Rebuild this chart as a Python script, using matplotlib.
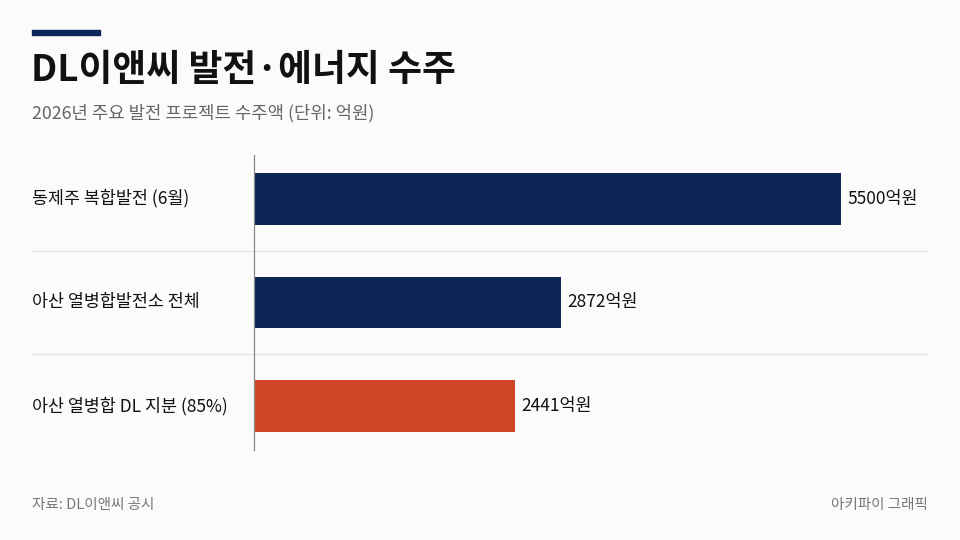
import matplotlib
matplotlib.use("Agg")
import matplotlib.pyplot as plt
from matplotlib.patches import Rectangle

plt.rcParams['font.family'] = ['Noto Sans CJK KR', 'DejaVu Sans']

categories = ["동제주 복합발전 (6월)", "아산 열병합발전소 전체", "아산 열병합 DL 지분 (85%)"]
values = [5500, 2872, 2441]
value_labels = ["5500억원", "2872억원", "2441억원"]
bar_colors = ["#0c2657", "#0c2657", "#cf4526"]

title = "DL이앤씨 발전·에너지 수주"
subtitle = "2026년 주요 발전 프로젝트 수주액 (단위: 억원)"
source = "자료: DL이앤씨 공시"
credit = "아키파이 그래픽"

BG = "#fbfbfb"
W, H = 960, 540

fig = plt.figure(figsize=(9.6, 5.4), dpi=100, facecolor=BG)

# accent bar above title
fig.patches.append(Rectangle((32 / W, 1 - 35 / H), 68 / W, 5 / H,
                             transform=fig.transFigure, color="#0c2657"))
fig.text(31 / W, 1 - 70 / H, title, fontsize=26.5, fontweight="bold",
         color="#111111", va="center", ha="left")
fig.text(32 / W, 1 - 113 / H, subtitle, fontsize=12.8, color="#666666",
         va="center", ha="left")

ax_left, ax_right = 254 / W, 928 / W
ax_top, ax_bot = 1 - 155 / H, 1 - 450 / H
ax = fig.add_axes([ax_left, ax_bot, ax_right - ax_left, ax_top - ax_bot])
ax.set_facecolor(BG)

ypos = list(range(len(categories)))
ax.barh(ypos, values, height=0.5, color=bar_colors)
ax.set_ylim(2.42, -0.42)
ax.set_xlim(0, 6315)

for y, v, lab in zip(ypos, values, value_labels):
    ax.text(v + 60, y, lab, fontsize=12.5, color="#111111", va="center", ha="left")

# category labels at the left edge of the figure
xmin_axes = (32 - 254) / (928 - 254)
for y, cat in zip(ypos, categories):
    ax.text(xmin_axes, y, cat, transform=ax.get_yaxis_transform(),
            fontsize=12.5, color="#111111", va="center", ha="left")

# separators between rows
for y in [0.5, 1.5]:
    ax.axhline(y, xmin=xmin_axes, xmax=1, color="#e6e6e6", lw=1, clip_on=False, zorder=0)

for s in ["top", "right", "bottom"]:
    ax.spines[s].set_visible(False)
ax.spines["left"].set_color("#888888")
ax.spines["left"].set_linewidth(0.9)
ax.set_xticks([])
ax.set_yticks([])

fig.text(32 / W, 1 - 505 / H, source, fontsize=10.5, color="#777777", va="center", ha="left")
fig.text(928 / W, 1 - 505 / H, credit, fontsize=10.5, color="#777777", va="center", ha="right")

fig.savefig("out.png", dpi=100, facecolor=BG)
